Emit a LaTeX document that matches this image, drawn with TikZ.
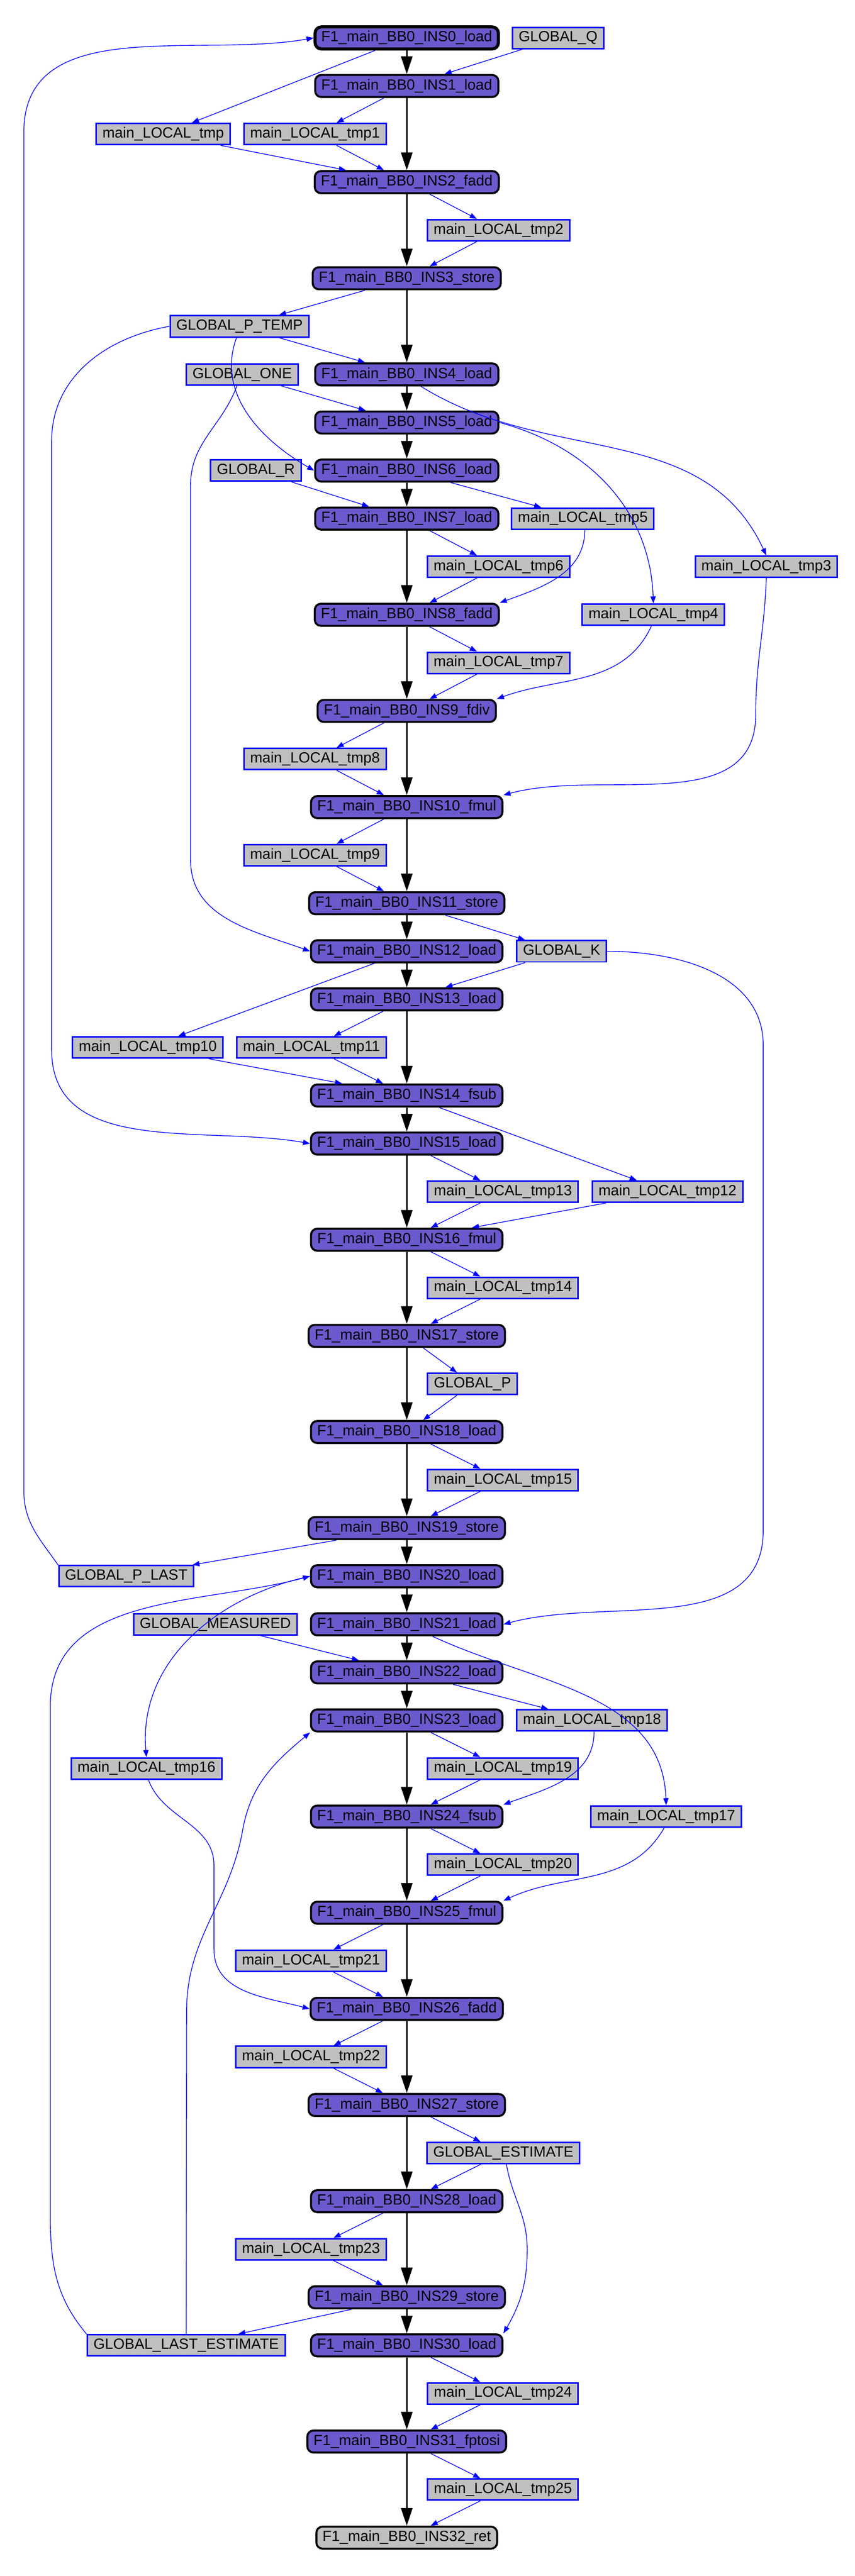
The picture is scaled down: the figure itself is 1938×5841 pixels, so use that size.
\documentclass[tikz,border=0pt]{standalone}
\usepackage{fontspec}
\setmainfont{Liberation Sans}
\usetikzlibrary{positioning,arrows.meta}
\definecolor{opblue}{HTML}{6A5ACD}
\definecolor{vargray}{HTML}{C0C0C0}

\begin{document}
\begin{tikzpicture}[x=1pt, y=1pt, font=\fontsize{33.5}{40}\selectfont,
    op/.style={rectangle, rounded corners=14pt, draw=black, line width=4.5pt, fill=opblue,
      inner xsep=14pt, text height=24pt, text depth=7pt, minimum height=50pt},
    var/.style={rectangle, draw=blue, line width=3.5pt, fill=vargray,
      inner xsep=14pt, text height=24pt, text depth=7pt, minimum height=48pt},
    flow/.style={line width=3pt, -{Triangle[length=40pt,width=26pt]}},
    dep/.style={blue, line width=1.6pt, -{Triangle[length=16pt,width=12pt]}}]
    \useasboundingbox (0,0) rectangle (1938,-5841);

    % instructions
    \node[op, line width=7pt] (i0) at (922,-86) {F1\_main\_BB0\_INS0\_load};
    \node[op] (i1) at (922,-195) {F1\_main\_BB0\_INS1\_load};
    \node[op] (i2) at (922,-413) {F1\_main\_BB0\_INS2\_fadd};
    \node[op] (i3) at (922,-631) {F1\_main\_BB0\_INS3\_store};
    \node[op] (i4) at (922,-849) {F1\_main\_BB0\_INS4\_load};
    \node[op] (i5) at (922,-958) {F1\_main\_BB0\_INS5\_load};
    \node[op] (i6) at (922,-1067) {F1\_main\_BB0\_INS6\_load};
    \node[op] (i7) at (922,-1176) {F1\_main\_BB0\_INS7\_load};
    \node[op] (i8) at (922,-1394) {F1\_main\_BB0\_INS8\_fadd};
    \node[op] (i9) at (922,-1612) {F1\_main\_BB0\_INS9\_fdiv};
    \node[op] (i10) at (922,-1830) {F1\_main\_BB0\_INS10\_fmul};
    \node[op] (i11) at (922,-2048) {F1\_main\_BB0\_INS11\_store};
    \node[op] (i12) at (922,-2157) {F1\_main\_BB0\_INS12\_load};
    \node[op] (i13) at (922,-2266) {F1\_main\_BB0\_INS13\_load};
    \node[op] (i14) at (922,-2484) {F1\_main\_BB0\_INS14\_fsub};
    \node[op] (i15) at (922,-2593) {F1\_main\_BB0\_INS15\_load};
    \node[op] (i16) at (922,-2811) {F1\_main\_BB0\_INS16\_fmul};
    \node[op] (i17) at (922,-3029) {F1\_main\_BB0\_INS17\_store};
    \node[op] (i18) at (922,-3247) {F1\_main\_BB0\_INS18\_load};
    \node[op] (i19) at (922,-3465) {F1\_main\_BB0\_INS19\_store};
    \node[op] (i20) at (922,-3574) {F1\_main\_BB0\_INS20\_load};
    \node[op] (i21) at (922,-3683) {F1\_main\_BB0\_INS21\_load};
    \node[op] (i22) at (922,-3792) {F1\_main\_BB0\_INS22\_load};
    \node[op] (i23) at (922,-3901) {F1\_main\_BB0\_INS23\_load};
    \node[op] (i24) at (922,-4119) {F1\_main\_BB0\_INS24\_fsub};
    \node[op] (i25) at (922,-4337) {F1\_main\_BB0\_INS25\_fmul};
    \node[op] (i26) at (922,-4555) {F1\_main\_BB0\_INS26\_fadd};
    \node[op] (i27) at (922,-4773) {F1\_main\_BB0\_INS27\_store};
    \node[op] (i28) at (922,-4991) {F1\_main\_BB0\_INS28\_load};
    \node[op] (i29) at (922,-5209) {F1\_main\_BB0\_INS29\_store};
    \node[op] (i30) at (922,-5318) {F1\_main\_BB0\_INS30\_load};
    \node[op] (i31) at (922,-5536) {F1\_main\_BB0\_INS31\_fptosi};
    \node[op, fill=vargray] (i32) at (922,-5754) {F1\_main\_BB0\_INS32\_ret};

    % variables
    \node[var] (gq) at (1265,-86) {GLOBAL\_Q};
    \node[var] (ltmp) at (370,-304) {main\_LOCAL\_tmp};
    \node[var] (ltmp1) at (714,-304) {main\_LOCAL\_tmp1};
    \node[var] (ltmp2) at (1130,-522) {main\_LOCAL\_tmp2};
    \node[var] (gptemp) at (543,-740) {GLOBAL\_P\_TEMP};
    \node[var] (gone) at (549,-849) {GLOBAL\_ONE};
    \node[var] (gr) at (580,-1067) {GLOBAL\_R};
    \node[var] (ltmp5) at (1321,-1176) {main\_LOCAL\_tmp5};
    \node[var] (ltmp6) at (1130,-1285) {main\_LOCAL\_tmp6};
    \node[var] (ltmp3) at (1737,-1285) {main\_LOCAL\_tmp3};
    \node[var] (ltmp4) at (1481,-1394) {main\_LOCAL\_tmp4};
    \node[var] (ltmp7) at (1130,-1503) {main\_LOCAL\_tmp7};
    \node[var] (ltmp8) at (714,-1721) {main\_LOCAL\_tmp8};
    \node[var] (ltmp9) at (714,-1939) {main\_LOCAL\_tmp9};
    \node[var] (gk) at (1273,-2157) {GLOBAL\_K};
    \node[var] (ltmp10) at (335,-2375) {main\_LOCAL\_tmp10};
    \node[var] (ltmp11) at (706,-2375) {main\_LOCAL\_tmp11};
    \node[var] (ltmp13) at (1140,-2702) {main\_LOCAL\_tmp13};
    \node[var] (ltmp12) at (1513,-2702) {main\_LOCAL\_tmp12};
    \node[var] (ltmp14) at (1140,-2920) {main\_LOCAL\_tmp14};
    \node[var] (gp) at (1071,-3138) {GLOBAL\_P};
    \node[var] (ltmp15) at (1140,-3356) {main\_LOCAL\_tmp15};
    \node[var] (gplast) at (286,-3574) {GLOBAL\_P\_LAST};
    \node[var] (gmeas) at (488,-3683) {GLOBAL\_MEASURED};
    \node[var] (ltmp18) at (1342,-3901) {main\_LOCAL\_tmp18};
    \node[var] (ltmp16) at (332,-4010) {main\_LOCAL\_tmp16};
    \node[var] (ltmp19) at (1140,-4010) {main\_LOCAL\_tmp19};
    \node[var] (ltmp17) at (1510,-4119) {main\_LOCAL\_tmp17};
    \node[var] (ltmp20) at (1140,-4228) {main\_LOCAL\_tmp20};
    \node[var] (ltmp21) at (705,-4446) {main\_LOCAL\_tmp21};
    \node[var] (ltmp22) at (705,-4664) {main\_LOCAL\_tmp22};
    \node[var] (gest) at (1141,-4882) {GLOBAL\_ESTIMATE};
    \node[var] (ltmp23) at (705,-5100) {main\_LOCAL\_tmp23};
    \node[var] (glastest) at (422,-5318) {GLOBAL\_LAST\_ESTIMATE};
    \node[var] (ltmp24) at (1140,-5427) {main\_LOCAL\_tmp24};
    \node[var] (ltmp25) at (1140,-5645) {main\_LOCAL\_tmp25};

    % bends of the long connectors
    \coordinate (c1) at (117,-1000);
    \coordinate (c2) at (117,-2380);
    \coordinate (c3) at (432,-1100);
    \coordinate (c4) at (432,-1950);
    \coordinate (c5) at (1713,-1620);
    \coordinate (c6) at (1730,-2370);
    \coordinate (c7) at (1730,-3470);
    \coordinate (c8) at (54,-3380);
    \coordinate (c9) at (54,-300);
    \coordinate (c10) at (114,-5020);
    \coordinate (c11) at (114,-3870);
    \coordinate (c13) at (485,-4230);
    \coordinate (c14) at (485,-4420);
    \coordinate (c15) at (423,-4560);
    \coordinate (c16) at (550,-4150);
    \coordinate (c18) at (1195,-5100);

    % control flow
    \draw[flow] (i0) -- (i1);
    \draw[flow] (i1) -- (i2);
    \draw[flow] (i2) -- (i3);
    \draw[flow] (i3) -- (i4);
    \draw[flow] (i4) -- (i5);
    \draw[flow] (i5) -- (i6);
    \draw[flow] (i6) -- (i7);
    \draw[flow] (i7) -- (i8);
    \draw[flow] (i8) -- (i9);
    \draw[flow] (i9) -- (i10);
    \draw[flow] (i10) -- (i11);
    \draw[flow] (i11) -- (i12);
    \draw[flow] (i12) -- (i13);
    \draw[flow] (i13) -- (i14);
    \draw[flow] (i14) -- (i15);
    \draw[flow] (i15) -- (i16);
    \draw[flow] (i16) -- (i17);
    \draw[flow] (i17) -- (i18);
    \draw[flow] (i18) -- (i19);
    \draw[flow] (i19) -- (i20);
    \draw[flow] (i20) -- (i21);
    \draw[flow] (i21) -- (i22);
    \draw[flow] (i22) -- (i23);
    \draw[flow] (i23) -- (i24);
    \draw[flow] (i24) -- (i25);
    \draw[flow] (i25) -- (i26);
    \draw[flow] (i26) -- (i27);
    \draw[flow] (i27) -- (i28);
    \draw[flow] (i28) -- (i29);
    \draw[flow] (i29) -- (i30);
    \draw[flow] (i30) -- (i31);
    \draw[flow] (i31) -- (i32);

    % data dependencies
    \draw[dep] (i0) -- (ltmp);
    \draw[dep] (gq) -- (i1);
    \draw[dep] (i1) -- (ltmp1);
    \draw[dep] (ltmp) -- (i2);
    \draw[dep] (ltmp1) -- (i2);
    \draw[dep] (i2) -- (ltmp2);
    \draw[dep] (ltmp2) -- (i3);
    \draw[dep] (i3) -- (gptemp);
    \draw[dep] (gptemp) -- (i4);
    \draw[dep] (gptemp.-105) to[out=-110,in=150] (i6.west);
    \draw[dep] (gptemp.west) to[out=190,in=90] (c1) -- (c2) to[out=-90,in=170] (i15.west);
    \draw[dep] (gone) -- (i5);
    \draw[dep] (gone.-115) to[out=-110,in=90] (c3) -- (c4) to[out=-90,in=160] (i12.west);
    \draw[dep] (i4.-40) to[out=-32,in=115] (ltmp3.north);
    \draw[dep] (i5.east) to[out=-15,in=92] (ltmp4.north);
    \draw[dep] (i6) -- (ltmp5);
    \draw[dep] (gr) -- (i7);
    \draw[dep] (i7) -- (ltmp6);
    \draw[dep] (ltmp5.-80) to[out=-90,in=20] (i8.north east);
    \draw[dep] (ltmp6) -- (i8);
    \draw[dep] (i8) -- (ltmp7);
    \draw[dep] (ltmp7) -- (i9);
    \draw[dep] (ltmp4.-100) to[out=-115,in=20] (i9.north east);
    \draw[dep] (i9) -- (ltmp8);
    \draw[dep] (ltmp8) -- (i10);
    \draw[dep] (ltmp3.south) to[out=-92,in=90] (c5) to[out=-90,in=15] (i10.north east);
    \draw[dep] (i10) -- (ltmp9);
    \draw[dep] (ltmp9) -- (i11);
    \draw[dep] (i11) -- (gk);
    \draw[dep] (gk) -- (i13);
    \draw[dep] (gk.east) to[out=0,in=90] (c6) -- (c7) to[out=-90,in=15] (i21.east);
    \draw[dep] (i12) -- (ltmp10);
    \draw[dep] (i13) -- (ltmp11);
    \draw[dep] (ltmp10) -- (i14);
    \draw[dep] (ltmp11) -- (i14);
    \draw[dep] (i14) -- (ltmp12);
    \draw[dep] (i15) -- (ltmp13);
    \draw[dep] (ltmp13) -- (i16);
    \draw[dep] (ltmp12) -- (i16);
    \draw[dep] (i16) -- (ltmp14);
    \draw[dep] (ltmp14) -- (i17);
    \draw[dep] (i17) -- (gp);
    \draw[dep] (gp) -- (i18);
    \draw[dep] (i18) -- (ltmp15);
    \draw[dep] (ltmp15) -- (i19);
    \draw[dep] (i19) -- (gplast);
    \draw[dep] (gplast.north west) to[out=125,in=-90] (c8) -- (c9) to[out=90,in=190] (i0.west);
    \draw[dep] (glastest.north west) to[out=130,in=-90] (c10) -- (c11) to[out=90,in=195] (i20.west);
    \draw[dep] (i20.west) to[out=192,in=95] (ltmp16.north);
    \draw[dep] (gmeas) -- (i22);
    \draw[dep] (i21.-25) to[out=-25,in=92] (ltmp17.north);
    \draw[dep] (i22) -- (ltmp18);
    \draw[dep] (i23) -- (ltmp19);
    \draw[dep] (ltmp18.-80) to[out=-90,in=20] (i24.north east);
    \draw[dep] (ltmp19) -- (i24);
    \draw[dep] (i24) -- (ltmp20);
    \draw[dep] (ltmp20) -- (i25);
    \draw[dep] (ltmp17.-100) to[out=-120,in=25] (i25.north east);
    \draw[dep] (i25) -- (ltmp21);
    \draw[dep] (ltmp21) -- (i26);
    \draw[dep] (ltmp16.-80) to[out=-70,in=90] (c13) -- (c14) to[out=-90,in=165] (i26.west);
    \draw[dep] (i26) -- (ltmp22);
    \draw[dep] (ltmp22) -- (i27);
    \draw[dep] (i27) -- (gest);
    \draw[dep] (gest) -- (i28);
    \draw[dep] (gest.-75) to[out=-80,in=90] (c18) to[out=-90,in=60] (i30.north east);
    \draw[dep] (i28) -- (ltmp23);
    \draw[dep] (ltmp23) -- (i29);
    \draw[dep] (i29) -- (glastest);
    \draw[dep] (glastest.north) -- (c15) to[out=90,in=-100] (c16) to[out=80,in=-140] (i23.south west);
    \draw[dep] (i30) -- (ltmp24);
    \draw[dep] (ltmp24) -- (i31);
    \draw[dep] (i31) -- (ltmp25);
    \draw[dep] (ltmp25) -- (i32);
\end{tikzpicture}
\end{document}
